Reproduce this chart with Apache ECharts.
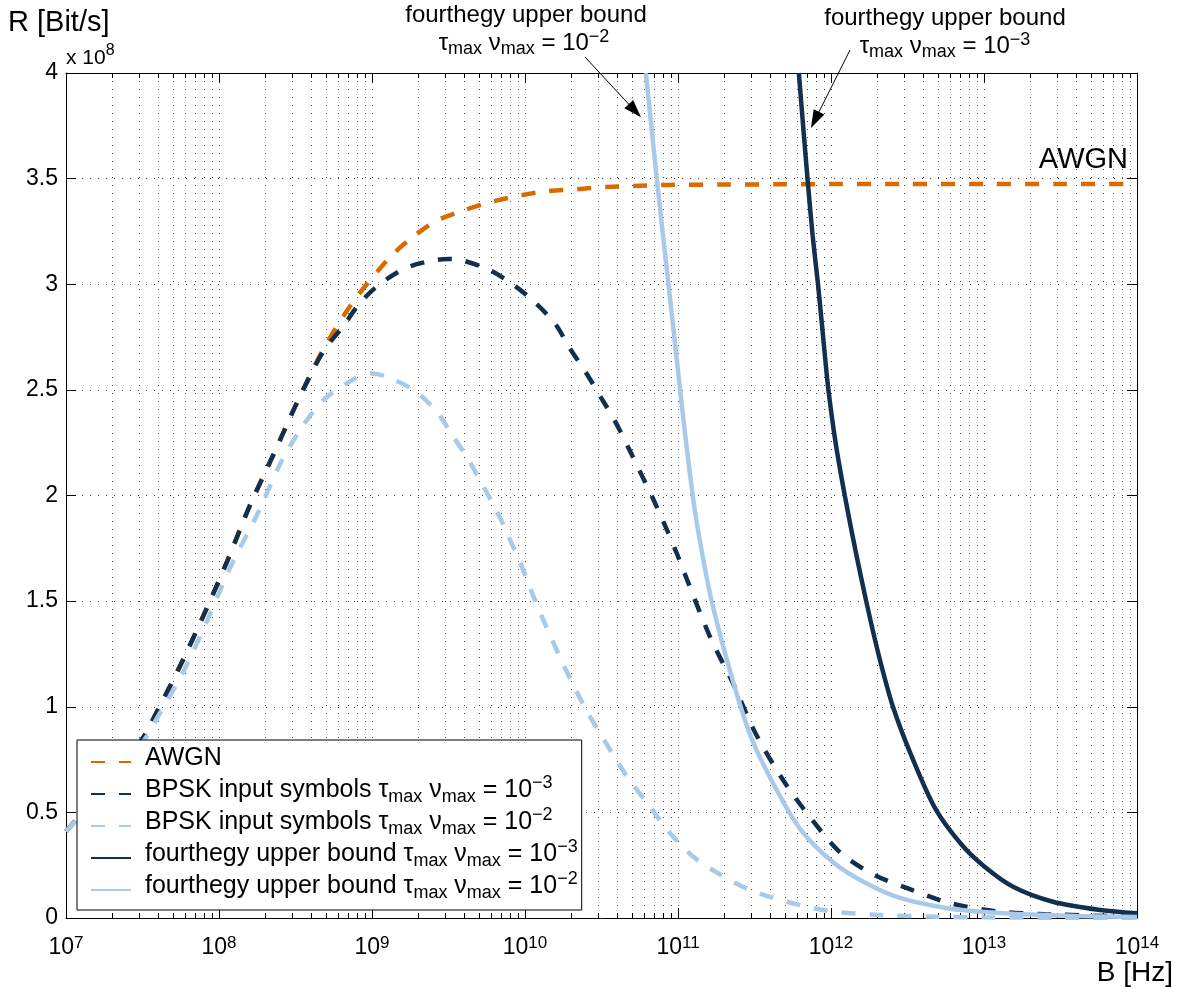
<!DOCTYPE html>
<html>
<head>
<meta charset="utf-8">
<script src="https://cdn.jsdelivr.net/npm/echarts@6/dist/echarts.min.js"></script>
<style>
  html, body { margin: 0; padding: 0; background: #fff; }
  #chart { width: 1184px; height: 993px; }
</style>
</head>
<body>
<div id="chart"></div>
<script>
// Bandwidth given as log10(B / Hz); rates R in units of 1e8 bit/s.
const awgnLogB = [7.00, 7.25, 7.50, 7.59, 7.75, 7.91, 8.06, 8.20, 8.36, 8.51, 8.68, 8.88, 9.12, 9.26, 9.42, 9.60, 9.78, 9.97, 10.14, 10.34, 10.53, 10.71, 10.93, 11.30, 11.67, 12.00, 12.50, 13.00, 13.50, 14.00];
const awgnRate = [0.41, 0.62, 0.85, 0.97, 1.20, 1.45, 1.70, 1.95, 2.20, 2.44, 2.69, 2.92, 3.13, 3.22, 3.30, 3.35, 3.39, 3.42, 3.44, 3.45, 3.46, 3.465, 3.47, 3.472, 3.473, 3.474, 3.475, 3.475, 3.475, 3.475];

const bpsk3LogB = [7.00, 7.25, 7.50, 7.59, 7.75, 7.91, 8.06, 8.20, 8.36, 8.51, 8.68, 8.81, 8.92, 9.05, 9.23, 9.42, 9.50, 9.58, 9.76, 9.92, 10.07, 10.20, 10.29, 10.40, 10.50, 10.59, 10.68, 10.76, 10.84, 10.92, 10.99, 11.06, 11.21, 11.36, 11.51, 11.69, 11.86, 12.06, 12.28, 12.52, 12.78, 13.08, 13.40, 14.00];
const bpsk3Rate = [0.41, 0.62, 0.85, 0.97, 1.20, 1.45, 1.70, 1.95, 2.20, 2.44, 2.68, 2.80, 2.91, 3.00, 3.08, 3.115, 3.12, 3.115, 3.07, 3.00, 2.91, 2.81, 2.70, 2.58, 2.46, 2.35, 2.22, 2.10, 1.98, 1.85, 1.73, 1.60, 1.33, 1.11, 0.87, 0.65, 0.48, 0.31, 0.205, 0.135, 0.07, 0.032, 0.018, 0.006];

const bpsk2LogB = [7.00, 7.25, 7.50, 7.59, 7.77, 7.93, 8.08, 8.25, 8.40, 8.53, 8.68, 8.88, 9.00, 9.10, 9.27, 9.42, 9.53, 9.63, 9.73, 9.82, 9.89, 9.97, 10.04, 10.12, 10.27, 10.40, 10.53, 10.66, 10.80, 10.95, 11.10, 11.28, 11.47, 11.71, 11.99, 12.30, 12.70, 13.00, 13.50, 14.00];
const bpsk2Rate = [0.41, 0.61, 0.83, 0.94, 1.17, 1.42, 1.67, 1.91, 2.15, 2.31, 2.45, 2.55, 2.578, 2.56, 2.50, 2.40, 2.28, 2.17, 2.04, 1.92, 1.81, 1.68, 1.55, 1.41, 1.17, 0.985, 0.827, 0.677, 0.543, 0.40, 0.29, 0.204, 0.133, 0.077, 0.033, 0.015, 0.006, 0.003, 0.001, 0.0];

const bound3LogB = [11.79, 11.82, 11.85, 11.88, 11.915, 11.95, 11.98, 12.03, 12.09, 12.16, 12.23, 12.31, 12.405, 12.53, 12.68, 12.85, 13.00, 13.19, 13.45, 13.76, 14.00];
const bound3Rate = [4.00, 3.73, 3.47, 3.23, 3.00, 2.74, 2.52, 2.25, 2.00, 1.74, 1.50, 1.25, 1.00, 0.76, 0.52, 0.35, 0.245, 0.148, 0.077, 0.038, 0.022];

const bound2LogB = [10.79, 10.83, 10.86, 10.89, 10.93, 10.97, 11.00, 11.05, 11.11, 11.18, 11.23, 11.34, 11.47, 11.62, 11.80, 12.02, 12.23, 12.45, 12.76, 13.00, 13.30, 13.60, 14.00];
const bound2Rate = [4.00, 3.72, 3.51, 3.31, 3.05, 2.79, 2.59, 2.27, 1.93, 1.64, 1.47, 1.17, 0.87, 0.64, 0.42, 0.26, 0.164, 0.095, 0.046, 0.028, 0.016, 0.009, 0.005];

// Axis range and decades
const bMin = 1e7, bMax = 1e14;
const decadeExponents = [7, 8, 9, 10, 11, 12, 13];
const minorMultipliers = [2, 3, 4, 5, 6, 7, 8, 9];

const FONT = "'Liberation Sans', Arial, Helvetica, sans-serif";
const ORANGE = '#D96A00';
const NAVY = '#132F4F';
const LIGHT = '#A9C9E8';
const DASH = [14, 14];
const LINE_W = 4.5;

const names = {
  awgn: 'AWGN',
  bpsk3: 'BPSK input symbols tau nu 1e-3',
  bpsk2: 'BPSK input symbols tau nu 1e-2',
  bound3: 'fourthegy upper bound tau nu 1e-3',
  bound2: 'fourthegy upper bound tau nu 1e-2'
};
const legendText = {};
legendText[names.awgn] = 'AWGN';
legendText[names.bpsk3] = 'BPSK input symbols \u03c4{sub|max} \u03bd{sub|max} = 10{sup|\u22123}';
legendText[names.bpsk2] = 'BPSK input symbols \u03c4{sub|max} \u03bd{sub|max} = 10{sup|\u22122}';
legendText[names.bound3] = 'fourthegy upper bound \u03c4{sub|max} \u03bd{sub|max} = 10{sup|\u22123}';
legendText[names.bound2] = 'fourthegy upper bound \u03c4{sub|max} \u03bd{sub|max} = 10{sup|\u22122}';

function pairs(logB, rate) {
  return logB.map((l, i) => [Math.pow(10, l), rate[i]]);
}

const scriptRich = (size, off) => ({
  sub: { fontSize: size, fontFamily: FONT, color: '#000', fill: '#000', lineHeight: off, verticalAlign: 'bottom' },
  sup: { fontSize: size, fontFamily: FONT, color: '#000', fill: '#000', lineHeight: off, verticalAlign: 'top' }
});

// minor tick positions 2..9 x 10^d
const minorTicks = [];
decadeExponents.forEach(d => minorMultipliers.forEach(k => minorTicks.push([k * Math.pow(10, d), 0])));

function lineSeries(name, data, color, dashed) {
  return {
    type: 'line', name: name, data: data,
    xAxisIndex: 0, yAxisIndex: 0,
    showSymbol: false, symbol: 'none', smooth: 0.3,
    clip: true,
    lineStyle: { color: color, width: LINE_W, type: dashed ? DASH : 'solid', cap: 'butt' },
    itemStyle: { color: color },
    emphasis: { disabled: true },
    z: 3
  };
}

const chart = echarts.init(document.getElementById('chart'), null, { renderer: 'canvas' });

const gridStyle = { color: '#444', width: 1, type: [1, 7] };

chart.setOption({
  animation: false,
  backgroundColor: '#fff',
  textStyle: { fontFamily: FONT },
  grid: { left: 66, right: 47, top: 73, bottom: 75, containLabel: false },
  xAxis: [{
    type: 'log', logBase: 10, min: bMin, max: bMax, gridIndex: 0, position: 'bottom',
    axisLine: { show: true, onZero: false, lineStyle: { color: '#000', width: 1 } },
    axisTick: { show: true, inside: true, length: 10, lineStyle: { color: '#000' } },
    splitLine: { show: true, lineStyle: gridStyle },
    minorTick: { show: false }, minorSplitLine: { show: false },
    axisLabel: {
      show: true, margin: 17, showMinLabel: true, showMaxLabel: true, hideOverlap: false,
      formatter: v => '10{sup|' + Math.round(Math.log10(v)) + '}',
      fontSize: 23, fontFamily: FONT, color: '#000', lineHeight: 26,
      rich: { sup: { fontSize: 17, fontFamily: FONT, color: '#000', lineHeight: 8, verticalAlign: 'top' } }
    }
  }, {
    type: 'log', logBase: 10, min: bMin, max: bMax, gridIndex: 0, position: 'top',
    axisLine: { show: true, onZero: false, lineStyle: { color: '#000', width: 1 } },
    axisTick: { show: true, inside: true, length: 10, lineStyle: { color: '#000' } },
    splitLine: { show: false }, axisLabel: { show: false }
  }],
  yAxis: [{
    type: 'value', min: 0, max: 4, interval: 0.5, position: 'left',
    axisLine: { show: true, onZero: false, lineStyle: { color: '#000', width: 1 } },
    axisTick: { show: true, inside: true, length: 10, lineStyle: { color: '#000' } },
    splitLine: { show: true, lineStyle: gridStyle },
    axisLabel: { show: true, margin: 8, fontSize: 23, fontFamily: FONT, color: '#000', showMinLabel: true, showMaxLabel: true }
  }, {
    type: 'value', min: 0, max: 4, interval: 0.5, position: 'right',
    axisLine: { show: true, onZero: false, lineStyle: { color: '#000', width: 1 } },
    axisTick: { show: true, inside: true, length: 10, lineStyle: { color: '#000' } },
    splitLine: { show: false }, axisLabel: { show: false }
  }],
  legend: {
    show: true, orient: 'vertical', left: 77, top: 740,
    data: [names.awgn, names.bpsk3, names.bpsk2, names.bound3, names.bound2],
    selectedMode: false,
    backgroundColor: '#fff', borderColor: '#000', borderWidth: 1, borderRadius: 0,
    padding: [2, 4, 0, 13],
    itemWidth: 40, itemHeight: 14, itemGap: -8,
    itemStyle: { opacity: 0 },
    formatter: n => legendText[n],
    textStyle: {
      fontSize: 25, fontFamily: FONT, color: '#000', lineHeight: 32,
      padding: [0, 0, 8, 9],
      rich: scriptRich(18, 10)
    },
    z: 10
  },
  series: [
    {
      type: 'custom', name: 'minor grid', silent: true, z: 1,
      xAxisIndex: 0, yAxisIndex: 0, clip: false,
      data: minorTicks,
      renderItem: (params, api) => {
        const cs = params.coordSys;
        const x = Math.round(api.coord([api.value(0), 0])[0]) + 0.5;
        const top = cs.y, bot = cs.y + cs.height;
        return {
          type: 'group', children: [
            { type: 'line', shape: { x1: x, y1: top, x2: x, y2: bot }, style: { stroke: '#444', lineWidth: 1, lineDash: [1, 7] } },
            { type: 'line', shape: { x1: x, y1: bot, x2: x, y2: bot - 5 }, style: { stroke: '#000', lineWidth: 1 } },
            { type: 'line', shape: { x1: x, y1: top, x2: x, y2: top + 5 }, style: { stroke: '#000', lineWidth: 1 } }
          ]
        };
      }
    },
    lineSeries(names.awgn, pairs(awgnLogB, awgnRate), ORANGE, true),
    lineSeries(names.bpsk3, pairs(bpsk3LogB, bpsk3Rate), NAVY, true),
    lineSeries(names.bpsk2, pairs(bpsk2LogB, bpsk2Rate), LIGHT, true),
    lineSeries(names.bound3, pairs(bound3LogB, bound3Rate), NAVY, false),
    lineSeries(names.bound2, pairs(bound2LogB, bound2Rate), LIGHT, false)
  ]
});

// Annotation arrows point at the bound curves (data coordinates)
function toPx(logB, r) {
  return chart.convertToPixel({ xAxisIndex: 0, yAxisIndex: 0 }, [Math.pow(10, logB), r]);
}
function arrow(tail, tip) {
  const dx = tip[0] - tail[0], dy = tip[1] - tail[1];
  const len = Math.sqrt(dx * dx + dy * dy);
  const ux = dx / len, uy = dy / len, nx = -uy, ny = ux;
  const hl = 18, hw = 6;
  const bx = tip[0] - ux * hl, by = tip[1] - uy * hl;
  return [
    { type: 'line', silent: true, z: 20, shape: { x1: tail[0], y1: tail[1], x2: bx + ux * 4, y2: by + uy * 4 }, style: { stroke: '#000', lineWidth: 1 } },
    { type: 'polygon', silent: true, z: 20, shape: { points: [tip, [bx + nx * hw, by + ny * hw], [bx - nx * hw, by - ny * hw]] }, style: { fill: '#000' } }
  ];
}
function label(text, x, y, size, align, rich) {
  return {
    type: 'text', silent: true, z: 20, x: x, y: y,
    style: { text: text, fontSize: size, fontFamily: FONT, fill: '#000', align: align, verticalAlign: 'middle', lineHeight: 30, rich: rich || {} }
  };
}

const tip2 = toPx(10.758, 3.79);
const tip3 = toPx(11.869, 3.74);
const awgnPos = toPx(14, 3.59);

chart.setOption({
  graphic: [
    label('R [Bit/s]', 8, 23, 29, 'left'),
    label('x 10{sup|8}', 66, 58, 21, 'left', { sup: { fontSize: 16, fontFamily: FONT, fill: '#000', lineHeight: 12, verticalAlign: 'top' } }),
    label('B [Hz]', 1173, 973, 28, 'right'),
    label('AWGN', awgnPos[0] - 9, awgnPos[1], 29, 'right'),
    label('fourthegy upper bound', 526, 15, 24, 'center'),
    label('\u03c4{sub|max} \u03bd{sub|max} = 10{sup|\u22122}', 524, 43, 24, 'center', scriptRich(18, 10)),
    label('fourthegy upper bound', 945, 18, 24, 'center'),
    label('\u03c4{sub|max} \u03bd{sub|max} = 10{sup|\u22123}', 945, 46, 24, 'center', scriptRich(18, 10)),
    ...arrow([585, 57], tip2),
    ...arrow([850, 50], tip3)
  ]
});
</script>
</body>
</html>
